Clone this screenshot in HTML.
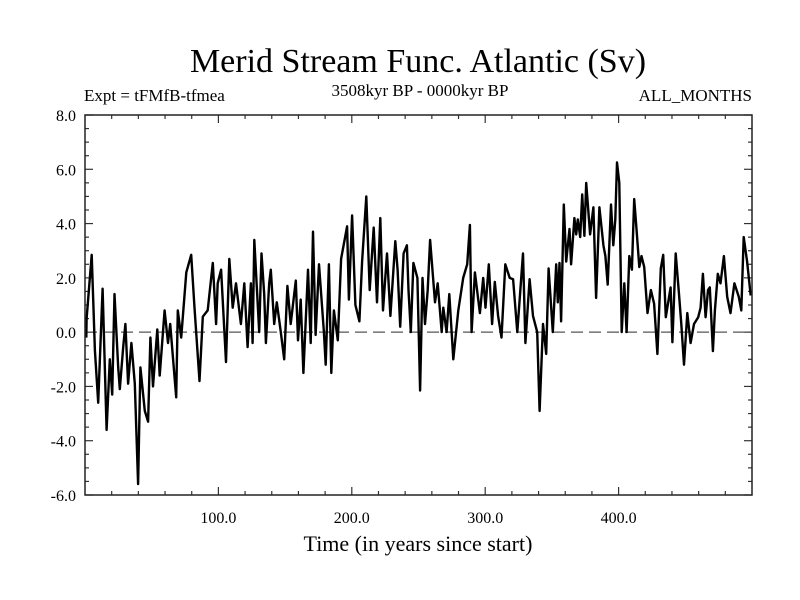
<!DOCTYPE html>
<html><head><meta charset="utf-8"><style>
html,body{margin:0;padding:0;background:#fff;width:800px;height:600px;overflow:hidden}
svg text{font-family:"Liberation Serif",serif;fill:#000}
</style></head><body>
<svg id="chart" width="800" height="600" xmlns="http://www.w3.org/2000/svg">
<text x="418" y="72" font-size="34" text-anchor="middle">Merid Stream Func. Atlantic (Sv)</text>
<text x="84" y="101" font-size="17">Expt = tFMfB-tfmea</text>
<text x="420" y="96" font-size="17" text-anchor="middle">3508kyr BP - 0000kyr BP</text>
<text x="752" y="101" font-size="17" text-anchor="end">ALL_MONTHS</text>
<text x="418" y="551" font-size="22" text-anchor="middle">Time (in years since start)</text>
<g id="ticks"></g>
<line id="zero" stroke="#555" stroke-width="1.3" stroke-dasharray="12,6"></line>
<path id="series" fill="none" stroke="#000" stroke-width="2.4" stroke-linejoin="round"></path>
<rect x="85" y="115" width="667" height="380" fill="none" stroke="#222" stroke-width="1.5"></rect>
</svg>
<script>
const years = [1,1.2,5,7.4,9.9,13.2,16.2,18.6,20.4,22.1,24.9,26.1,28.6,30.3,32.3,34.8,37.3,39.8,41.5,44.8,47.3,49,51,54.2,56,59.7,62.2,63.9,68.4,69.6,72.1,75.9,79.6,82.1,85.8,88.3,92,95.8,98.3,99.5,102,105.7,108.2,110.7,113.2,116.9,119.4,121.9,124.4,125.6,126.9,130.6,132.3,134.3,135.6,138.1,139.3,141.8,143.8,146.8,149.3,151.7,154.2,158,159.7,161.7,163.7,167.2,169.2,170.9,172.9,175.4,179.1,180.4,182.8,184.6,186.6,189.5,192,196.5,197.8,200.2,202.7,205.7,207.7,210.9,213.4,216.4,218.9,221.4,223.4,226.4,228.9,232.6,234.3,236.3,238.8,241.3,242.5,244.2,246.2,249.2,251.2,253,254.9,256.9,258.7,262.4,264.4,267.4,268.6,271.1,273.1,276.1,279.8,283.5,286.5,288.5,289.8,292.3,296,298.5,300.2,302.7,305.2,307.2,309.7,312.2,315.1,318.4,320.9,324.1,328.3,330.1,333.3,335.8,339,340.8,343.3,345.7,347.5,350.7,353.2,354.4,355.7,356.9,358.9,360.7,363.2,364.4,366.9,368.2,369.4,371.2,372.7,374.4,375.7,378.6,381.1,383.1,385.6,388.6,390.1,391.8,394.3,396,397.5,398.8,400.5,402.3,404.3,406,408,410,411.7,413.5,415.5,417.2,419.2,421.7,424.2,426.6,429.1,431.6,433.4,435.4,439,440.3,442.8,445.3,447,449,451.5,454,456.5,459.7,461.5,463.2,465.2,467,468.4,470.7,472.2,474.4,476.4,478.9,481.4,483.9,486.8,490.1,492,493.8,496.3,499];
const values = [-0.2,0.5,2.85,-0.67,-2.6,1.6,-3.6,-1.0,-2.3,1.4,-1.3,-2.1,-0.55,0.3,-1.9,-0.4,-1.9,-5.6,-1.3,-2.9,-3.3,-0.2,-2.0,0.1,-1.6,0.8,-0.4,0.3,-2.4,0.8,-0.2,2.2,2.85,0.9,-1.8,0.57,0.8,2.55,0.3,1.8,2.3,-1.1,2.7,0.9,1.8,0.3,1.8,-0.55,1.8,-0.4,3.4,0.0,2.9,1.4,-0.4,1.8,2.3,0.3,1.1,0.0,-1.0,1.7,0.3,1.9,-0.3,1.2,-1.5,2.3,-0.4,3.7,-0.1,2.5,0.0,-1.2,2.5,-1.5,0.8,-0.3,2.7,3.9,1.2,4.3,1.0,0.4,2.6,5.0,1.55,3.85,1.1,4.2,0.8,2.9,0.6,3.35,2.3,0.2,2.9,3.2,1.55,0.0,2.55,2.0,-2.15,2.0,0.3,1.55,3.4,1.1,1.8,0.0,0.9,0.0,1.4,-1.0,0.8,2.0,2.5,3.95,0.0,2.2,0.7,2.0,0.9,2.5,0.3,1.85,0.6,-0.2,2.5,2.0,1.95,0.0,2.9,-0.4,1.95,0.6,0.0,-2.9,0.3,-0.8,2.35,0.0,2.5,1.1,2.55,0.4,4.7,2.6,3.8,2.5,4.2,3.6,4.15,3.5,5.07,3.55,5.5,3.6,4.6,1.26,4.6,3.2,2.8,1.75,4.7,3.2,4.15,6.25,5.5,0.0,1.8,0.0,2.8,2.3,4.9,3.75,2.4,2.8,2.4,0.7,1.55,1.05,-0.8,2.35,2.85,0.55,1.65,-0.37,2.9,1.4,0.3,-1.2,0.7,-0.4,0.3,0.55,0.9,2.15,0.55,1.55,1.65,-0.7,0.8,2.15,1.8,2.8,1.3,0.7,1.8,1.3,0.8,3.5,2.6,1.35,4.0,4.6];
const yTickValues = [-6,-4,-2,0,2,4,6,8];
const yTickLabels = ["-6.0","-4.0","-2.0","0.0","2.0","4.0","6.0","8.0"];
const xTickValues = [100,200,300,400];
const xTickLabels = ["100.0","200.0","300.0","400.0"];

const X0=85,X1=752,Y0=495,Y1=115,XMIN=0,XMAX=500,YMIN=-6,YMAX=8;
function xs(v){return X0+(v-XMIN)/(XMAX-XMIN)*(X1-X0);}
function ys(v){return Y0-(v-YMIN)/(YMAX-YMIN)*(Y0-Y1);}
const NS="http://www.w3.org/2000/svg";
const tg=document.getElementById('ticks');
function ln(x1,y1,x2,y2,name){const l=document.createElementNS(NS,'line');
l.setAttribute('x1',x1);l.setAttribute('y1',y1);l.setAttribute('x2',x2);l.setAttribute('y2',y2);
l.setAttribute('stroke','#333');l.setAttribute('stroke-width','1.2');


tg.appendChild(l);}
for(let v=YMIN;v<=YMAX+1e-6;v+=0.5){const y=ys(v);const major=Math.abs(v/2-Math.round(v/2))<1e-6;const len=major?8:4;
ln(X0,y,X0+len,y,'y-tick');ln(X1,y,X1-len,y,'y-tick-right');}
for(let v=20;v<XMAX;v+=20){const x=xs(v);const len=(v%100===0)?8:4;
ln(x,Y0,x,Y0-len,'x-tick');ln(x,Y1,x,Y1+len,'x-tick-top');}
yTickValues.forEach((v,i)=>{const t=document.createElementNS(NS,'text');
t.setAttribute('x',76);t.setAttribute('y',ys(v)+6);t.setAttribute('font-size','16');t.setAttribute('text-anchor','end');
t.textContent=yTickLabels[i];


tg.appendChild(t);});
xTickValues.forEach((v,i)=>{const t=document.createElementNS(NS,'text');
t.setAttribute('x',xs(v));t.setAttribute('y',523);t.setAttribute('font-size','16');t.setAttribute('text-anchor','middle');
t.textContent=xTickLabels[i];


tg.appendChild(t);});
const z=document.getElementById('zero');
z.setAttribute('x1',X0);z.setAttribute('x2',X1);z.setAttribute('y1',ys(0));z.setAttribute('y2',ys(0));
let d='';years.forEach((yr,i)=>{d+=(i?'L':'M')+xs(yr).toFixed(1)+','+ys(values[i]).toFixed(1);});
document.getElementById('series').setAttribute('d',d);
</script>
</body></html>
